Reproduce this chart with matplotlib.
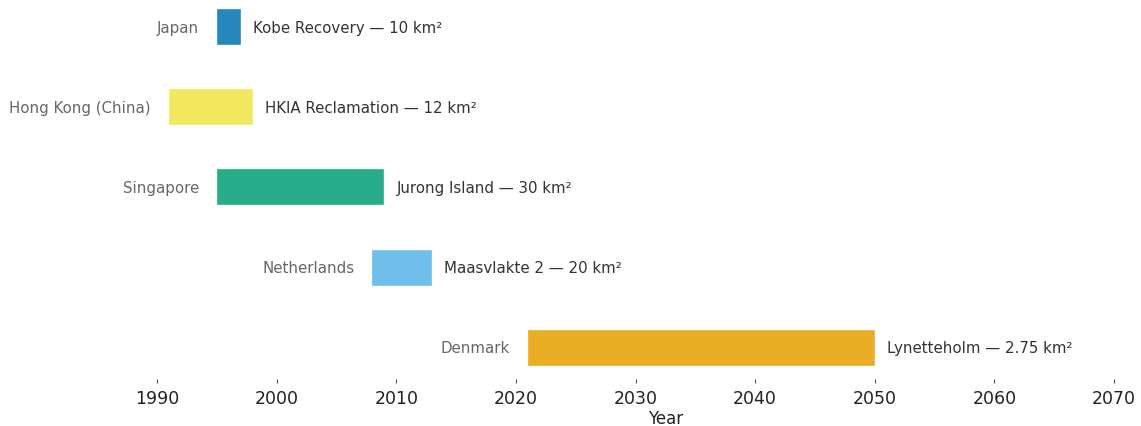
import matplotlib.pyplot as plt

plt.rcParams["font.family"] = ["DejaVu Sans"]

# Land reclamation projects: country, project, area, start / end year
countries = ["Japan", "Hong Kong (China)", "Singapore", "Netherlands", "Denmark"]
projects = ["Kobe Recovery", "HKIA Reclamation", "Jurong Island", "Maasvlakte 2", "Lynetteholm"]
areas = ["10", "12", "30", "20", "2.75"]
start_years = [1995, 1991, 1995, 2008, 2021]
end_years = [1997, 1998, 2009, 2013, 2050]
colors = ["#0072B2", "#F0E442", "#009E73", "#56B4E9", "#E69F00"]

fig = plt.figure(figsize=(11.41, 4.27), dpi=100)
ax = fig.add_axes([157 / 1141, 47 / 427, (1114 - 157) / 1141, 380 / 427])

ypos = list(range(len(countries)))
widths = [e - s for s, e in zip(start_years, end_years)]
ax.barh(ypos, widths, left=start_years, height=0.45, color=colors,
        alpha=0.85, edgecolor="white", linewidth=0.3)

for y, c, p, a, s, e in zip(ypos, countries, projects, areas, start_years, end_years):
    ax.text(s - 1.5, y, c, ha="right", va="center", fontsize=10.8, color="#666666")
    ax.text(e + 1.0, y, f"{p} — {a} km²", ha="left", va="center",
            fontsize=10.8, color="#333333")

ax.set_xlim(1990, 2070)
ax.set_ylim(4.39, -0.35)
ax.set_xticks(range(1990, 2071, 10))
ax.set_yticks([])
ax.tick_params(axis="x", labelsize=12.5, colors="#222222", length=3,
               width=0.8, color="#555555", pad=4)
ax.set_xlabel("Year", fontsize=12, color="#222222")
ax.xaxis.set_label_coords(0.531, -0.078, transform=ax.transAxes)
ax.xaxis.label.set_va("top")
for sp in ax.spines.values():
    sp.set_visible(False)

fig.savefig("out.png", dpi=100)
